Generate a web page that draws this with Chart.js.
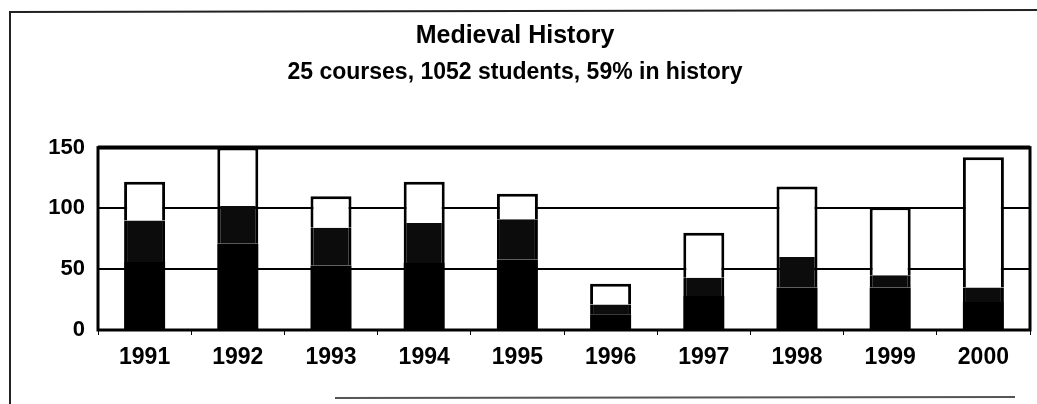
<!DOCTYPE html>
<html>
<head>
<meta charset="utf-8">
<script src="https://cdn.jsdelivr.net/npm/chart.js@4/dist/chart.umd.min.js"></script>
<style>
    html, body { margin: 0; padding: 0; background: #fff; }
    #wrap { width: 1037px; height: 404px; }
</style>
</head>
<body>
<div id="wrap"><canvas id="historyChart" width="1037" height="404"></canvas></div>
<script>
// Values
const years = ['1991', '1992', '1993', '1994', '1995', '1996', '1997', '1998', '1999', '2000'];
const bottomPart = [56, 71, 53, 55, 58, 13, 28, 35, 35, 23];
const middlePart = [34, 31, 31, 33, 33, 8, 15, 25, 10, 12];
const topPart = [32, 48, 26, 34, 21, 17, 37, 58, 56, 107];
const yTicks = [0, 50, 100, 150];

const FONT = '"Liberation Sans", Arial, sans-serif';

// Page frame and thick plot border, like the scanned original
const framePlugin = {
    id: 'frame',
    beforeDraw(chart) {
        const ctx = chart.ctx;
        ctx.save();
        ctx.strokeStyle = '#222';
        ctx.lineWidth = 2;
        ctx.beginPath();
        ctx.moveTo(10, 404);
        ctx.lineTo(10, 12);
        ctx.lineTo(1037, 10);
        ctx.stroke();
        ctx.strokeStyle = '#555';
        ctx.beginPath();
        ctx.moveTo(335, 398);
        ctx.lineTo(1015, 397);
        ctx.stroke();
        ctx.restore();
    },
    afterDraw(chart) {
        const a = chart.chartArea;
        const ctx = chart.ctx;
        ctx.save();
        ctx.strokeStyle = '#000';
        ctx.lineWidth = 3;
        ctx.strokeRect(a.left, a.top, a.right - a.left, a.bottom - a.top);
        ctx.lineWidth = 4;
        ctx.beginPath();
        ctx.moveTo(a.left, a.top);
        ctx.lineTo(a.right, a.top);
        ctx.stroke();
        ctx.restore();
    }
};

new Chart(document.getElementById('historyChart').getContext('2d'), {
    type: 'bar',
    data: {
        labels: years,
        datasets: [{
            data: bottomPart,
            backgroundColor: '#000',
            borderColor: '#000',
            borderWidth: 0
        }, {
            data: middlePart,
            backgroundColor: '#0c0c0c',
            borderColor: '#000',
            borderWidth: { left: 3, right: 3, top: 0, bottom: 0 }
        }, {
            data: topPart,
            backgroundColor: '#fff',
            borderColor: '#000',
            borderWidth: 3
        }]
    },
    options: {
        responsive: false,
        animation: false,
        layout: { padding: { left: 0, right: 7, top: 21, bottom: 0 } },
        datasets: {
            bar: { barPercentage: 0.44, categoryPercentage: 1, borderSkipped: 'bottom' }
        },
        plugins: {
            legend: { display: false },
            tooltip: { enabled: false },
            title: {
                display: true,
                text: 'Medieval History',
                color: '#000',
                font: { family: FONT, size: 25, weight: 'bold' },
                padding: { top: 0, bottom: 8 }
            },
            subtitle: {
                display: true,
                text: '25 courses, 1052 students, 59% in history',
                color: '#000',
                font: { family: FONT, size: 23, weight: 'bold' },
                padding: { top: 0, bottom: 61 }
            }
        },
        scales: {
            x: {
                stacked: true,
                grid: {
                    drawOnChartArea: false,
                    drawTicks: true,
                    tickLength: 5,
                    color: '#000',
                    lineWidth: 1
                },
                border: { display: false },
                ticks: {
                    color: '#000',
                    font: { family: FONT, size: 23, weight: 'bold' },
                    padding: 9,
                    maxRotation: 0
                },
                afterFit(scale) { scale.height = 74; }
            },
            y: {
                stacked: true,
                min: 0,
                max: 150,
                afterBuildTicks(scale) { scale.ticks = yTicks.map(v => ({ value: v })); },
                grid: { color: '#000', lineWidth: 2, drawTicks: false },
                border: { display: false },
                ticks: {
                    color: '#000',
                    font: { family: FONT, size: 22, weight: 'bold' },
                    padding: 13
                },
                afterFit(scale) { scale.width = 98; }
            }
        }
    },
    plugins: [framePlugin]
});
</script>
</body>
</html>
